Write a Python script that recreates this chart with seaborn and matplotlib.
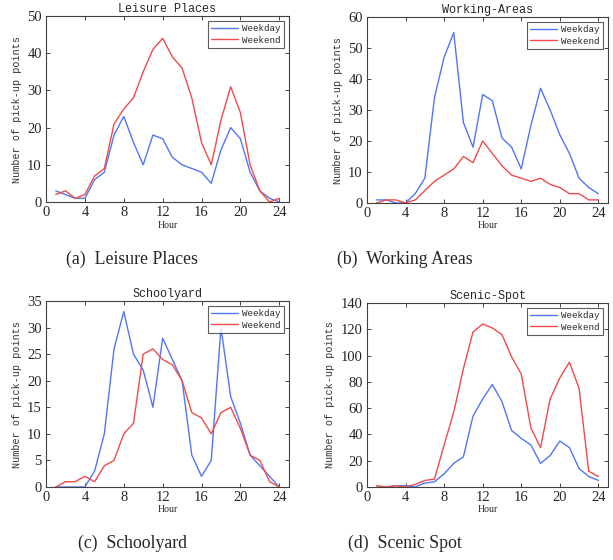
import matplotlib
matplotlib.use("Agg")
import matplotlib.pyplot as plt
import seaborn as sns
import pandas as pd

hours = list(range(1, 25))

leisure_weekday = [3, 2, 1, 1, 6, 8, 18, 23, 16, 10, 18, 17, 12, 10, 9, 8, 5, 14, 20, 17, 8, 3, 1, 0]
leisure_weekend = [2, 3, 1, 2, 7, 9, 21, 25, 28, 35, 41, 44, 39, 36, 28, 16, 10, 22, 31, 24, 10, 3, 0, 1]

working_weekday = [1, 1, 0, 0, 3, 8, 34, 47, 55, 26, 18, 35, 33, 21, 18, 11, 25, 37, 30, 22, 16, 8, 5, 3]
working_weekend = [0, 1, 1, 0, 1, 4, 7, 9, 11, 15, 13, 20, 16, 12, 9, 8, 7, 8, 6, 5, 3, 3, 1, 1]

school_weekday = [0, 0, 0, 0, 3, 10, 26, 33, 25, 22, 15, 28, 24, 20, 6, 2, 5, 30, 17, 12, 6, 4, 2, 0]
school_weekend = [0, 1, 1, 2, 1, 4, 5, 10, 12, 25, 26, 24, 23, 20, 14, 13, 10, 14, 15, 11, 6, 5, 1, 0]

scenic_weekday = [0, 0, 1, 1, 0, 3, 4, 10, 18, 23, 54, 67, 78, 65, 43, 37, 32, 18, 24, 35, 30, 14, 8, 5]
scenic_weekend = [1, 0, 1, 0, 2, 5, 6, 32, 57, 90, 118, 124, 121, 116, 99, 86, 45, 30, 67, 83, 95, 75, 12, 8]

titles = ["Leisure Places", "Working-Areas", "Schoolyard", "Scenic-Spot"]
captions = ["(a)  Leisure Places", "(b)  Working Areas", "(c)  Schoolyard", "(d)  Scenic Spot"]
ylims = [50, 60, 35, 140]
ysteps = [10, 10, 5, 20]
xticks = [0, 4, 8, 12, 16, 20, 24]
series_names = ["Weekday", "Weekend"]

data = [
    (leisure_weekday, leisure_weekend),
    (working_weekday, working_weekend),
    (school_weekday, school_weekend),
    (scenic_weekday, scenic_weekend),
]

sns.set_style("ticks")
mono = ["Liberation Mono", "DejaVu Sans Mono"]
serif = ["Liberation Serif", "DejaVu Serif"]

fig = plt.figure(figsize=(6.13, 5.6), dpi=100)
W, H = 613, 560
boxes = [(46, 16, 289, 202), (367, 17, 608, 203), (46, 301, 289, 487), (367, 303, 608, 487)]
cap_pos = [(132, 259), (405, 259), (132, 543), (405, 543)]
hour_y = [225, 225, 510, 510]
palette = {"Weekday": "#5276f7", "Weekend": "#f24a4a"}

for i, (wd, we) in enumerate(data):
    l, t, r, b = boxes[i]
    ax = fig.add_axes([l / W, 1 - b / H, (r - l) / W, (b - t) / H])
    df = pd.DataFrame({
        "Hour": hours + hours,
        "Count": list(wd) + list(we),
        "Type": [series_names[0]] * len(hours) + [series_names[1]] * len(hours),
    })
    sns.lineplot(data=df, x="Hour", y="Count", hue="Type", palette=palette,
                 linewidth=1.0, ax=ax, legend=True)
    ax.set_xlim(0, 25)
    ax.set_ylim(0, ylims[i])
    ax.set_xticks(xticks)
    ax.set_yticks(list(range(0, ylims[i] + 1, ysteps[i])))
    ax.tick_params(direction="in", top=True, right=True, length=3, width=0.6,
                   colors="#262626", labelsize=10.5, pad=3)
    for lab in ax.get_xticklabels() + ax.get_yticklabels():
        lab.set_fontfamily(serif)
    for sp in ax.spines.values():
        sp.set_visible(True)
        sp.set_linewidth(0.8)
        sp.set_color("#404040")
    ax.set_title(titles[i], fontsize=8.5, family=mono, pad=3)
    ax.set_xlabel("")
    ax.set_ylabel("Number of pick-up points", fontsize=7.3, family=mono, labelpad=4,
                  color="#333333")
    fig.text(((l + r) / 2) / W, 1 - hour_y[i] / H, "Hour", fontsize=7, family=serif,
             ha="center", va="center")
    leg = ax.legend(loc="upper right", frameon=True, fancybox=False,
                    prop={"family": mono, "size": 6.6}, borderpad=0.35,
                    handlelength=2.9, handletextpad=0.5, labelspacing=0.25,
                    borderaxespad=0.55)
    leg.get_frame().set_edgecolor("#333333")
    leg.get_frame().set_linewidth(0.8)
    fig.text(cap_pos[i][0] / W, 1 - cap_pos[i][1] / H, captions[i], fontsize=12.8,
             family=serif, ha="center", va="center")

fig.savefig("out.png", dpi=100)
